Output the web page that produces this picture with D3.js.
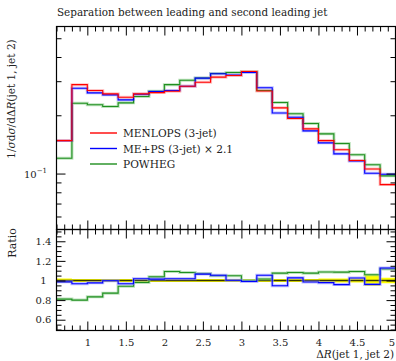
<!DOCTYPE html>
<html>
<head>
<meta charset="utf-8">
<script src="https://cdn.jsdelivr.net/npm/d3@7.9.0/dist/d3.min.js"></script>
<style>
body { margin: 0; background: #fff; }
svg text { font-family: "DejaVu Serif", serif; fill: #222; }
</style>
</head>
<body>
<svg id="chart" width="396" height="361"></svg>
<script>
// bin edges of the Delta R histogram
const binEdges = [0.6, 0.8, 1.0, 1.2, 1.4, 1.6, 1.8, 2.0, 2.2, 2.4, 2.6, 2.8,
                  3.0, 3.2, 3.4, 3.6, 3.8, 4.0, 4.2, 4.4, 4.6, 4.8, 5.0];

// main panel, 1/sigma dsigma/dDeltaR
const menlops = [0.148, 0.288, 0.2685, 0.258, 0.248, 0.258, 0.262, 0.266, 0.2826, 0.2964, 0.3147,
                 0.321, 0.3366, 0.267, 0.2185, 0.1924, 0.1702, 0.148, 0.1327, 0.1167, 0.1055, 0.0877];
const mepsScaled = [0.148, 0.276, 0.2612, 0.255, 0.2403, 0.257, 0.2653, 0.2685, 0.2826, 0.311, 0.3276,
                    0.323, 0.3327, 0.2773, 0.2055, 0.1954, 0.1662, 0.1441, 0.1264, 0.116, 0.1004, 0.0992];
const powheg = [0.12, 0.2308, 0.2265, 0.222, 0.2319, 0.25, 0.266, 0.288, 0.3035, 0.3116, 0.3288,
                0.3327, 0.3366, 0.2685, 0.2327, 0.2035, 0.1813, 0.1604, 0.1429, 0.1251, 0.111, 0.0973];

// ratio panel (to MENLOPS)
const ratioMeps = [0.986, 0.966, 0.976, 0.997, 0.966, 1.017, 1.014, 1.017, 1.017, 1.065, 1.054,
                   1.003, 0.99, 1.054, 0.946, 1.027, 0.985, 0.978, 0.958, 1.025, 0.96, 1.128];
const ratioPowheg = [0.81, 0.80, 0.833, 0.871, 0.942, 0.98, 1.037, 1.092, 1.082, 1.071, 1.048,
                     1.048, 1.0, 1.015, 1.075, 1.082, 1.075, 1.086, 1.085, 1.092, 1.058, 1.118];
const menlopsErr = [0.02, 0.015, 0.015, 0.015, 0.015, 0.015, 0.015, 0.015, 0.015, 0.015, 0.015,
                    0.015, 0.015, 0.015, 0.015, 0.015, 0.015, 0.02, 0.02, 0.02, 0.055, 0.028];

const xMajor = [1, 1.5, 2, 2.5, 3, 3.5, 4, 4.5, 5];
const xMinor = [0.6, 0.7, 0.8, 0.9, 1.1, 1.2, 1.3, 1.4, 1.6, 1.7, 1.8, 1.9, 2.1, 2.2, 2.3, 2.4,
                2.6, 2.7, 2.8, 2.9, 3.1, 3.2, 3.3, 3.4, 3.6, 3.7, 3.8, 3.9, 4.1, 4.2, 4.3, 4.4,
                4.6, 4.7, 4.8, 4.9];
const yMainMajor = [0.1];
const yMainMinor = [0.06, 0.07, 0.08, 0.09, 0.2, 0.3, 0.4, 0.5];
const ratioMajor = [0.6, 0.8, 1, 1.2, 1.4];
const ratioMinor = [0.5, 0.55, 0.65, 0.7, 0.75, 0.85, 0.9, 0.95, 1.05, 1.1, 1.15, 1.25, 1.3, 1.35, 1.45, 1.5];

const series = [
  { name: 'POWHEG', main: powheg, ratio: ratioPowheg, color: '#1f8f1f', pale: '#8fcf8f' },
  { name: 'ME+PS (3-jet) × 2.1', main: mepsScaled, ratio: ratioMeps, color: '#0000ff', pale: '#8f8fff' },
  { name: 'MENLOPS (3-jet)', main: menlops, ratio: null, color: '#ff0000', pale: '#ff9f9f' }
];

const svg = d3.select('#chart');
const pL = 56.5, pR = 395.5, pT = 26.5, pM = 229.5, pB = 330.5;

const x = d3.scaleLinear().domain([0.6, 5]).range([pL, pR]);
const y = d3.scaleLog().domain([0.0514, 0.575]).range([pM, pT]);
const yr = d3.scaleLinear().domain([0.49, 1.52]).range([pB, pM]);

// step path through the bins
function steps(vals, yScale) {
  let pts = [];
  vals.forEach((v, i) => {
    pts.push([x(binEdges[i]), yScale(v)]);
    pts.push([x(binEdges[i + 1]), yScale(v)]);
  });
  return d3.line()(pts);
}

// title
svg.append('text').attr('x', 57).attr('y', 16).attr('font-size', 10.4)
  .text('Separation between leading and second leading jet');

// ---- main panel ----
const main = svg.append('g');
series.forEach(s => {
  main.append('path').attr('d', steps(s.main, y)).attr('fill', 'none')
    .attr('stroke', s.pale).attr('stroke-width', 3).attr('opacity', 0.6);
});
series.forEach(s => {
  main.append('path').attr('d', steps(s.main, y)).attr('fill', 'none')
    .attr('stroke', s.color).attr('stroke-width', 1.1);
});

// ---- ratio panel ----
const rp = svg.append('g');
rp.append('path')
  .attr('d', d3.area()
    .x(d => d[0]).y0(d => d[1]).y1(d => d[2])
    (menlopsErr.flatMap((e, i) => [
      [x(binEdges[i]), yr(1 - e), yr(1 + e)],
      [x(binEdges[i + 1]), yr(1 - e), yr(1 + e)]
    ])))
  .attr('fill', '#ffff00');
rp.append('line').attr('x1', pL).attr('x2', pR).attr('y1', yr(1)).attr('y2', yr(1))
  .attr('stroke', '#333300').attr('stroke-width', 1.3);
series.filter(s => s.ratio).forEach(s => {
  rp.append('path').attr('d', steps(s.ratio, yr)).attr('fill', 'none')
    .attr('stroke', s.pale).attr('stroke-width', 3).attr('opacity', 0.6);
  rp.append('path').attr('d', steps(s.ratio, yr)).attr('fill', 'none')
    .attr('stroke', s.color).attr('stroke-width', 1.1);
});

// ---- axes (ticks inside on all sides) ----
function addAxis(axis, tx, ty) {
  const g = svg.append('g').attr('transform', `translate(${tx},${ty})`).call(axis);
  g.select('.domain').remove();
  g.selectAll('line').attr('stroke', '#000');
  return g;
}
const maj = 9, mnr = 5;
[[pT, 'top'], [pM, 'bottom'], [pM, 'top']].forEach(([yy, side]) => {
  const mk = side === 'top' ? d3.axisTop : d3.axisBottom;
  addAxis(mk(x).tickValues(xMajor).tickSize(-maj).tickFormat(''), 0, yy);
  addAxis(mk(x).tickValues(xMinor).tickSize(-mnr).tickFormat(''), 0, yy);
});
const xb = addAxis(d3.axisBottom(x).tickValues(xMajor).tickSize(-maj).tickPadding(8)
  .tickFormat(d => d), 0, pB);
xb.selectAll('text').attr('font-size', 10).attr('font-family', '"DejaVu Serif", serif')
  .attr('text-anchor', d => d === 5 ? 'end' : 'middle')
  .attr('dx', d => d === 5 ? -1 : 0);
addAxis(d3.axisBottom(x).tickValues(xMinor).tickSize(-mnr).tickFormat(''), 0, pB);

addAxis(d3.axisLeft(y).tickValues(yMainMajor).tickSize(-maj).tickFormat(''), pL, 0);
addAxis(d3.axisLeft(y).tickValues(yMainMinor).tickSize(-mnr).tickFormat(''), pL, 0);
addAxis(d3.axisRight(y).tickValues(yMainMajor).tickSize(-maj).tickFormat(''), pR, 0);
addAxis(d3.axisRight(y).tickValues(yMainMinor).tickSize(-mnr).tickFormat(''), pR, 0);

const yl = addAxis(d3.axisLeft(yr).tickValues(ratioMajor).tickSize(-maj).tickPadding(13)
  .tickFormat(d => d), pL, 0);
yl.selectAll('text').attr('font-size', 10).attr('text-anchor', 'middle')
  .attr('font-family', '"DejaVu Serif", serif');
addAxis(d3.axisLeft(yr).tickValues(ratioMinor).tickSize(-mnr).tickFormat(''), pL, 0);
addAxis(d3.axisRight(yr).tickValues(ratioMajor).tickSize(-maj).tickFormat(''), pR, 0);
addAxis(d3.axisRight(yr).tickValues(ratioMinor).tickSize(-mnr).tickFormat(''), pR, 0);

// 10^-1 label
const lab = svg.append('text').attr('x', 47).attr('y', y(0.1) + 4)
  .attr('text-anchor', 'end').attr('font-size', 10);
lab.append('tspan').text('10');
lab.append('tspan').attr('dy', -5).attr('font-size', 7).text('−1');

// frames
svg.append('rect').attr('x', pL).attr('y', pT).attr('width', pR - pL).attr('height', pM - pT)
  .attr('fill', 'none').attr('stroke', '#000').attr('stroke-width', 1.2);
svg.append('rect').attr('x', pL).attr('y', pM).attr('width', pR - pL).attr('height', pB - pM)
  .attr('fill', 'none').attr('stroke', '#000').attr('stroke-width', 1.2);

// legend
const legendRows = [series[2], series[1], series[0]];
legendRows.forEach((s, i) => {
  const ly = 133 + i * 15.5;
  svg.append('line').attr('x1', 90).attr('x2', 117).attr('y1', ly).attr('y2', ly)
    .attr('stroke', s.color).attr('stroke-width', 1.4);
  svg.append('text').attr('x', 123).attr('y', ly + 4).attr('font-size', 10.6).text(s.name);
});

// axis titles
const yt = svg.append('text').attr('transform', 'translate(15,99) rotate(-90)')
  .attr('text-anchor', 'middle').attr('font-size', 10.5);
yt.append('tspan').text('1/');
yt.append('tspan').attr('font-style', 'italic').text('σ');
yt.append('tspan').text('d');
yt.append('tspan').attr('font-style', 'italic').text('σ');
yt.append('tspan').text('/dΔ');
yt.append('tspan').attr('font-style', 'italic').text('R');
yt.append('tspan').text('(jet 1, jet 2)');

svg.append('text').attr('transform', 'translate(16,243) rotate(-90)')
  .attr('text-anchor', 'middle').attr('font-size', 11).text('Ratio');

const xt = svg.append('text').attr('x', 394).attr('y', 358).attr('text-anchor', 'end')
  .attr('font-size', 10.5);
xt.append('tspan').text('Δ');
xt.append('tspan').attr('font-style', 'italic').text('R');
xt.append('tspan').text('(jet 1, jet 2)');
</script>
</body>
</html>
